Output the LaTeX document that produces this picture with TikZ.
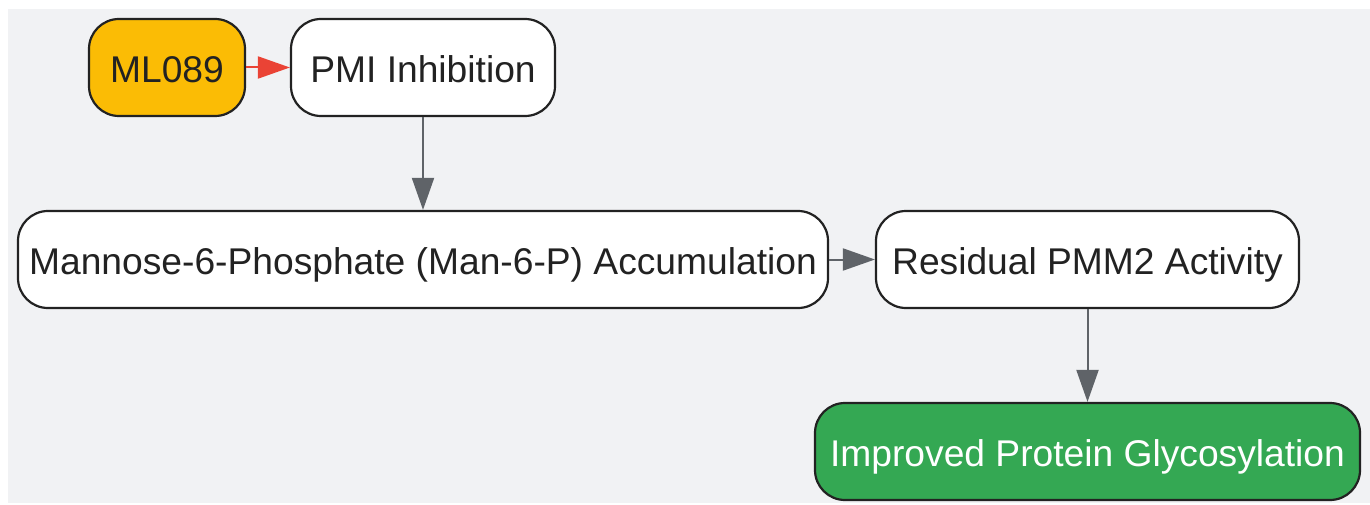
\documentclass[tikz,border=0pt]{standalone}
\usepackage{fontspec}
\setmainfont{Liberation Sans}
\usetikzlibrary{arrows.meta}
\definecolor{bg}{HTML}{F1F2F4}
\definecolor{edgegray}{HTML}{5F6368}
\definecolor{redarrow}{HTML}{EA4335}
\definecolor{yel}{HTML}{FBBC05}
\definecolor{grn}{HTML}{34A853}
\definecolor{txt}{HTML}{222222}
\begin{document}
\begin{tikzpicture}[x=1pt,y=-1pt,
  box/.style={draw=txt,line width=2.2pt,rounded corners=30pt,fill=white,text=txt,
    font=\fontsize{37.2}{42}\selectfont,inner sep=0pt,text height=33pt,text depth=2.4pt},
  conn/.style={draw=edgegray,line width=2pt,-{Triangle[length=32pt,width=22pt]}},
  redconn/.style={draw=redarrow,line width=2pt,-{Triangle[length=32pt,width=22pt]}}]
\useasboundingbox (0,0) rectangle (1370,505);
\fill[bg] (8,9) rectangle (1370,503);
\node[box,fill=yel,minimum width=156pt,minimum height=97pt] (ml) at (167,67.5) {ML089};
\node[box,minimum width=264pt,minimum height=97pt] (pmi) at (423,67.5) {PMI Inhibition};
\node[box,minimum width=810pt,minimum height=97pt] (man) at (423,259.5) {Mannose-6-Phosphate (Man-6-P) Accumulation};
\node[box,minimum width=423pt,minimum height=97pt] (res) at (1087.5,259.5) {Residual PMM2 Activity};
\node[box,fill=grn,text=white,minimum width=545pt,minimum height=97pt] (imp) at (1087.5,451.5) {Improved Protein Glycosylation};
\draw[redconn] (ml) -- (pmi);
\draw[conn] (pmi) -- (man);
\draw[conn] (man) -- (res);
\draw[conn] (res) -- (imp);
\end{tikzpicture}
\end{document}
